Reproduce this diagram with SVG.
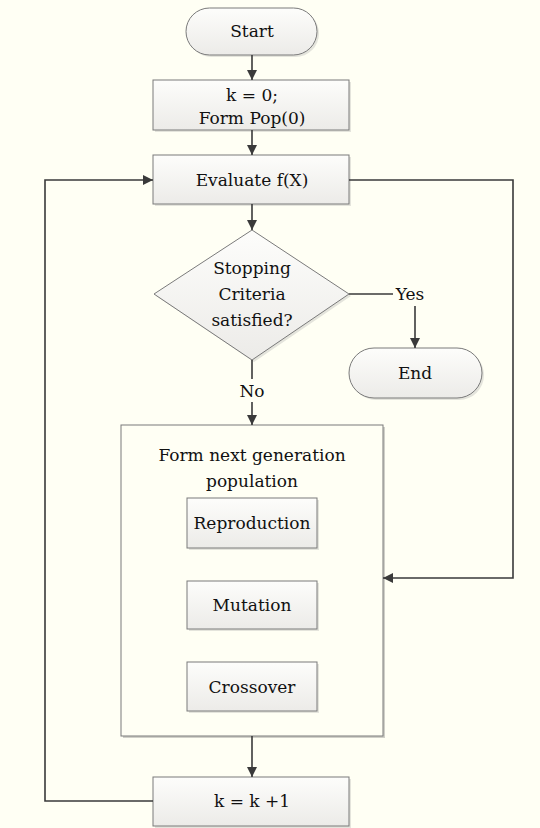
<svg xmlns="http://www.w3.org/2000/svg" width="540" height="828" viewBox="0 0 540 828">
<defs>
<linearGradient id="g" x1="0" y1="0" x2="0" y2="1">
<stop offset="0" stop-color="#fdfdfb"/>
<stop offset="1" stop-color="#ecebe8"/>
</linearGradient>
<marker id="ah" viewBox="0 0 10 10" refX="10" refY="5" markerWidth="10" markerHeight="10" markerUnits="userSpaceOnUse" orient="auto">
<path d="M0,0 L10,5 L0,10 z" fill="#3a3a3a"/>
</marker>
</defs>
<style>
.n{fill:url(#g);stroke:#7a7a7a;stroke-width:1}
.sh{fill:#e4e4dc}
.t{font-family:"DejaVu Serif","Liberation Serif",serif;font-size:17px;fill:#111;text-anchor:middle}
.c{fill:none;stroke:#3a3a3a;stroke-width:1.6}
.c2{fill:none;stroke:#3a3a3a;stroke-width:1.6;marker-end:url(#ah)}
</style>
<rect x="0" y="0" width="540" height="828" fill="#fffff4"/>
<g id="start">
<rect class="sh" x="188" y="10" width="131" height="47" rx="23.5"/>
<rect class="n" x="186" y="8" width="131" height="47" rx="23.5"/>
<text class="t" x="252" y="37">Start</text>
</g>
<g id="init">
<rect class="sh" x="155" y="82" width="196" height="50"/>
<rect class="n" x="153" y="80" width="196" height="50"/>
<text class="t" x="252" y="101">k = 0;</text>
<text class="t" x="252" y="124">Form Pop(0)</text>
</g>
<g id="evaluate">
<rect class="sh" x="155" y="157" width="196" height="49"/>
<rect class="n" x="153" y="155" width="196" height="49"/>
<text class="t" x="252" y="186">Evaluate f(X)</text>
</g>
<g id="decision">
<polygon class="sh" points="254,232 351,296 254,362 156,296"/>
<polygon class="n" points="252,230 349,294 252,360 154,294"/>
<text class="t" x="252" y="274">Stopping</text>
<text class="t" x="252" y="300">Criteria</text>
<text class="t" x="252" y="326">satisfied?</text>
</g>
<g id="end">
<rect class="sh" x="351" y="350" width="133" height="50" rx="25"/>
<rect class="n" x="349" y="348" width="133" height="50" rx="25"/>
<text class="t" x="415" y="379">End</text>
</g>
<g id="nextgen">
<rect x="123" y="427" width="262" height="311" fill="#d0d0c8"/>
<rect x="121" y="425" width="262" height="311" fill="#fffff4" stroke="#7a7a7a" stroke-width="1"/>
<text class="t" x="252" y="461">Form next generation</text>
<text class="t" x="252" y="487">population</text>
</g>
<g id="reproduction">
<rect class="sh" x="189" y="500" width="130" height="50"/>
<rect class="n" x="187" y="498" width="130" height="50"/>
<text class="t" x="252" y="529">Reproduction</text>
</g>
<g id="mutation">
<rect class="sh" x="189" y="583" width="130" height="48"/>
<rect class="n" x="187" y="581" width="130" height="48"/>
<text class="t" x="252" y="611">Mutation</text>
</g>
<g id="crossover">
<rect class="sh" x="189" y="664" width="130" height="49"/>
<rect class="n" x="187" y="662" width="130" height="49"/>
<text class="t" x="252" y="693">Crossover</text>
</g>
<g id="increment">
<rect class="sh" x="155" y="779" width="196" height="49"/>
<rect class="n" x="153" y="777" width="196" height="49"/>
<text class="t" x="252" y="807">k = k +1</text>
</g>
<g id="labels">
<text class="t" x="410" y="300">Yes</text>
<text class="t" x="252" y="397">No</text>
</g>
<g id="connectors">
<line class="c2" x1="252" y1="55" x2="252" y2="80"/>
<line class="c2" x1="252" y1="130" x2="252" y2="155"/>
<line class="c2" x1="252" y1="204" x2="252" y2="230"/>
<line class="c" x1="349" y1="294" x2="393" y2="294"/>
<line class="c2" x1="415" y1="306" x2="415" y2="348"/>
<line class="c" x1="252" y1="360" x2="252" y2="379"/>
<line class="c2" x1="252" y1="402" x2="252" y2="425"/>
<polyline class="c2" points="349,180 513,180 513,578 383,578"/>
<line class="c2" x1="252" y1="736" x2="252" y2="777"/>
<polyline class="c2" points="153,801 45,801 45,180 153,180"/>
</g>
</svg>
